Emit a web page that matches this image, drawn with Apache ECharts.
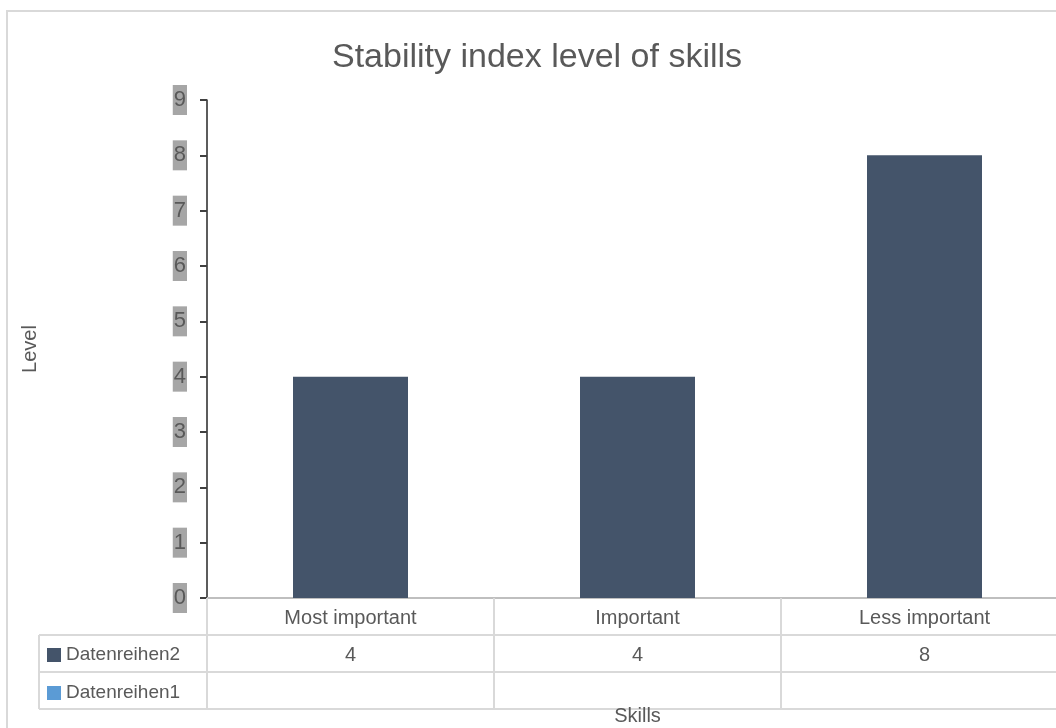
<!DOCTYPE html>
<html>
<head>
<meta charset="utf-8">
<script src="https://cdn.jsdelivr.net/npm/echarts@6/dist/echarts.min.js"></script>
<style>
  html, body { margin: 0; padding: 0; background: #fff; }
  #chart { width: 1056px; height: 728px; }
</style>
</head>
<body>
<div id="chart"></div>
<script>
// data
const categories = ['Most important', 'Important', 'Less important']
const series2Values = [4, 4, 8]
const series1Values = [null, null, null]
const seriesNames = ['Datenreihen2', 'Datenreihen1']

const textColor = '#595959'
const lineGray = '#d9d9d9'
const font = 'Liberation Sans, Arial, sans-serif'

// layout
const gridLeft = 207
const gridTop = 100
const gridWidth = 861
const gridHeight = 498
const rowH = 37
const tableLeft = 39

const chart = echarts.init(document.getElementById('chart'))

const axisY = gridTop + gridHeight
const hLine = (y, x1) => ({
  type: 'line',
  shape: { x1: x1, y1: y, x2: 1056, y2: y },
  style: { stroke: lineGray, lineWidth: 2 },
  silent: true
})

const option = {
  animation: false,
  textStyle: { fontFamily: font },
  title: {
    text: 'Stability index level of skills',
    left: 327,
    top: 36,
    textStyle: { fontSize: 34, fontWeight: 'normal', color: textColor, fontFamily: font }
  },
  legend: {
    data: seriesNames,
    orient: 'vertical',
    left: 42,
    top: axisY + rowH + 5,
    itemWidth: 14,
    itemHeight: 14,
    itemGap: 18,
    icon: 'rect',
    textStyle: { fontSize: 19, color: textColor, lineHeight: 20, fontFamily: font }
  },
  grid: {
    left: gridLeft, top: gridTop, width: gridWidth, height: gridHeight,
    outerBoundsMode: 'none', containLabel: false
  },
  xAxis: {
    type: 'category',
    data: categories,
    name: 'Skills',
    nameLocation: 'middle',
    nameGap: 108,
    nameTextStyle: { fontSize: 20, color: textColor },
    axisLine: { lineStyle: { color: '#bfbfbf', width: 2 } },
    axisTick: { show: true, interval: 0, length: rowH * 3 + 1, lineStyle: { color: lineGray, width: 2 } },
    axisLabel: {
      interval: 0,
      margin: 2,
      formatter: (v, i) => '{a|' + v + '}\n{a|' + series2Values[i] + '}',
      rich: { a: { fontSize: 20, color: textColor, lineHeight: rowH, fontFamily: font } }
    }
  },
  yAxis: {
    type: 'value',
    min: 0,
    max: 9,
    interval: 1,
    name: 'Level',
    nameLocation: 'middle',
    nameGap: 167,
    nameRotate: 90,
    nameTextStyle: { fontSize: 20, color: textColor },
    axisLine: { show: true, lineStyle: { color: '#262626', width: 1.5 } },
    axisTick: { show: true, length: 7, lineStyle: { color: '#404040', width: 2 } },
    splitLine: { show: false },
    axisLabel: {
      margin: 20,
      fontSize: 22,
      color: textColor,
      backgroundColor: '#a6a6a6',
      padding: [3, 1, 3, 1],
      lineHeight: 24
    }
  },
  series: [
    {
      name: seriesNames[0],
      type: 'bar',
      data: series2Values,
      barWidth: 115,
      barGap: '-100%',
      itemStyle: { color: '#44546a' }
    },
    {
      name: seriesNames[1],
      type: 'bar',
      data: series1Values,
      barWidth: 115,
      itemStyle: { color: '#5b9bd5' }
    }
  ],
  graphic: [
    {
      type: 'rect',
      shape: { x: 7, y: 11, width: 1100, height: 800 },
      style: { fill: 'none', stroke: lineGray, lineWidth: 2 },
      silent: true
    },
    hLine(axisY + rowH, tableLeft),
    hLine(axisY + rowH * 2, tableLeft),
    hLine(axisY + rowH * 3, tableLeft),
    {
      type: 'line',
      shape: { x1: tableLeft, y1: axisY + rowH, x2: tableLeft, y2: axisY + rowH * 3 },
      style: { stroke: lineGray, lineWidth: 2 },
      silent: true
    }
  ]
}

chart.setOption(option)
window.addEventListener('resize', () => chart.resize())
</script>
</body>
</html>
